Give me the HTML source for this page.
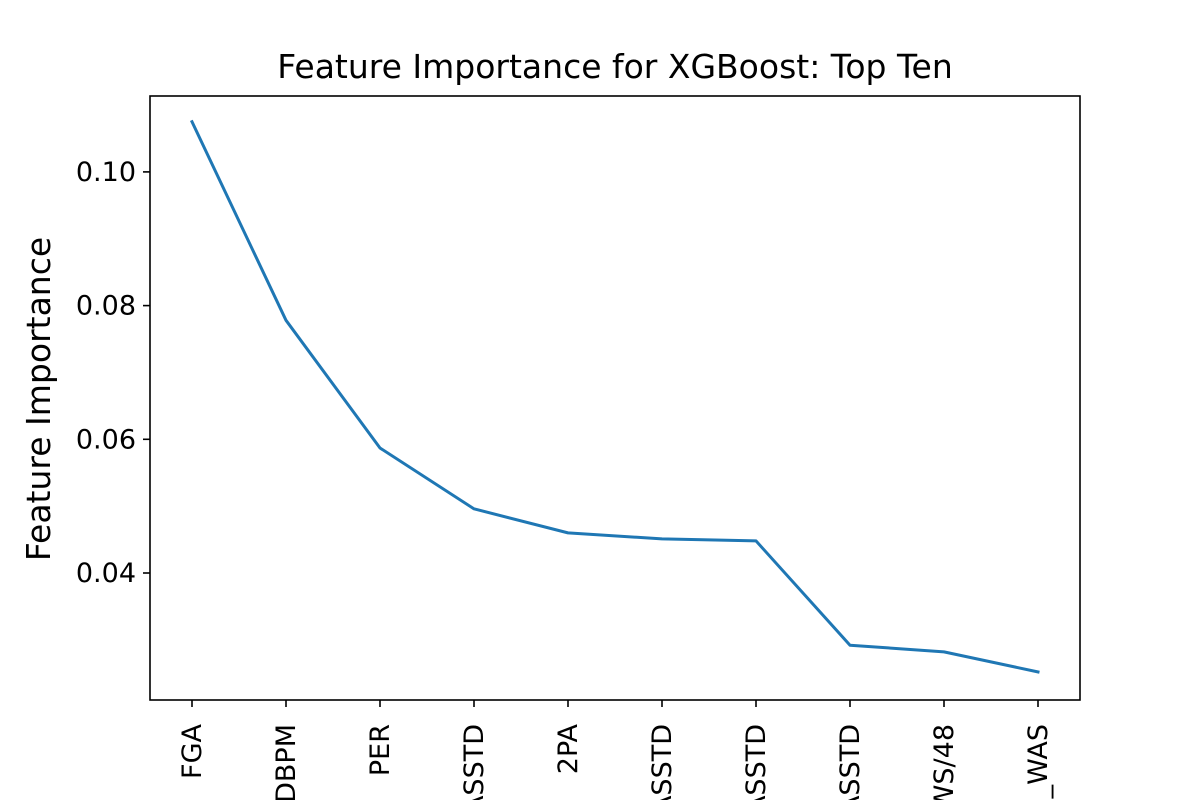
<!DOCTYPE html>
<html><head><meta charset="utf-8"><style>html,body{margin:0;background:#fff;overflow:hidden;width:1200px;height:800px}svg{display:block}text{font-family:"DejaVu Sans","Liberation Sans",sans-serif;fill:#000}</style></head>
<body>
<svg id="chart" width="1200" height="800" overflow="hidden">
<rect width="1200" height="800" fill="#fff"/>
<text x="615" y="78" font-size="33" text-anchor="middle">Feature Importance for XGBoost: Top Ten</text>
<text transform="translate(50,399) rotate(-90)" font-size="33" text-anchor="middle">Feature Importance</text>
<g id="yticks"></g><g id="xticks"></g>
<polyline id="line" fill="none" stroke="#1f77b4" stroke-width="3" stroke-linejoin="round" stroke-linecap="square"/>
<rect x="150" y="96" width="930" height="604" fill="none" stroke="#000" stroke-width="1.6"/>
</svg>
<script>
const features = ["FGA","DBPM","PER","TRB_CLASSTD","2PA","AST_CLASSTD","STL_CLASSTD","BLK_CLASSTD","WS/48","TEAM_WAS"];
const importances = [0.1075,0.0778,0.0587,0.0496,0.0460,0.0451,0.0448,0.0292,0.0282,0.0252];
const yTicks = [0.04,0.06,0.08,0.10];
const yTickLabels = ["0.04","0.06","0.08","0.10"];
const NS="http://www.w3.org/2000/svg";
const y = v => 573 - (v-0.04)/0.02*133.7;
const x = i => 192 + i*94.0;
const yt=document.getElementById('yticks'), xt=document.getElementById('xticks');
yTicks.forEach((v,i)=>{
  const l=document.createElementNS(NS,'line');
  
  
  l.setAttribute('x1',143);l.setAttribute('x2',150);l.setAttribute('y1',y(v));l.setAttribute('y2',y(v));l.setAttribute('stroke','#000');l.setAttribute('stroke-width',1.6);
  yt.appendChild(l);
  const t=document.createElementNS(NS,'text');
  
  
  t.setAttribute('x',136);t.setAttribute('y',y(v)+9);t.setAttribute('font-size',27);t.setAttribute('text-anchor','end');
  t.textContent=yTickLabels[i];yt.appendChild(t);
});
features.forEach((f,i)=>{
  const l=document.createElementNS(NS,'line');
  
  
  l.setAttribute('x1',x(i));l.setAttribute('x2',x(i));l.setAttribute('y1',700);l.setAttribute('y2',707);l.setAttribute('stroke','#000');l.setAttribute('stroke-width',1.6);
  xt.appendChild(l);
  const t=document.createElementNS(NS,'text');
  
  
  t.setAttribute('transform',`translate(${x(i)+9},724) rotate(-90)`);t.setAttribute('font-size',27);t.setAttribute('text-anchor','end');
  t.textContent=f;xt.appendChild(t);
});
document.getElementById('line').setAttribute('points',importances.map((v,i)=>x(i)+','+y(v)).join(' '));
</script>
</body></html>
